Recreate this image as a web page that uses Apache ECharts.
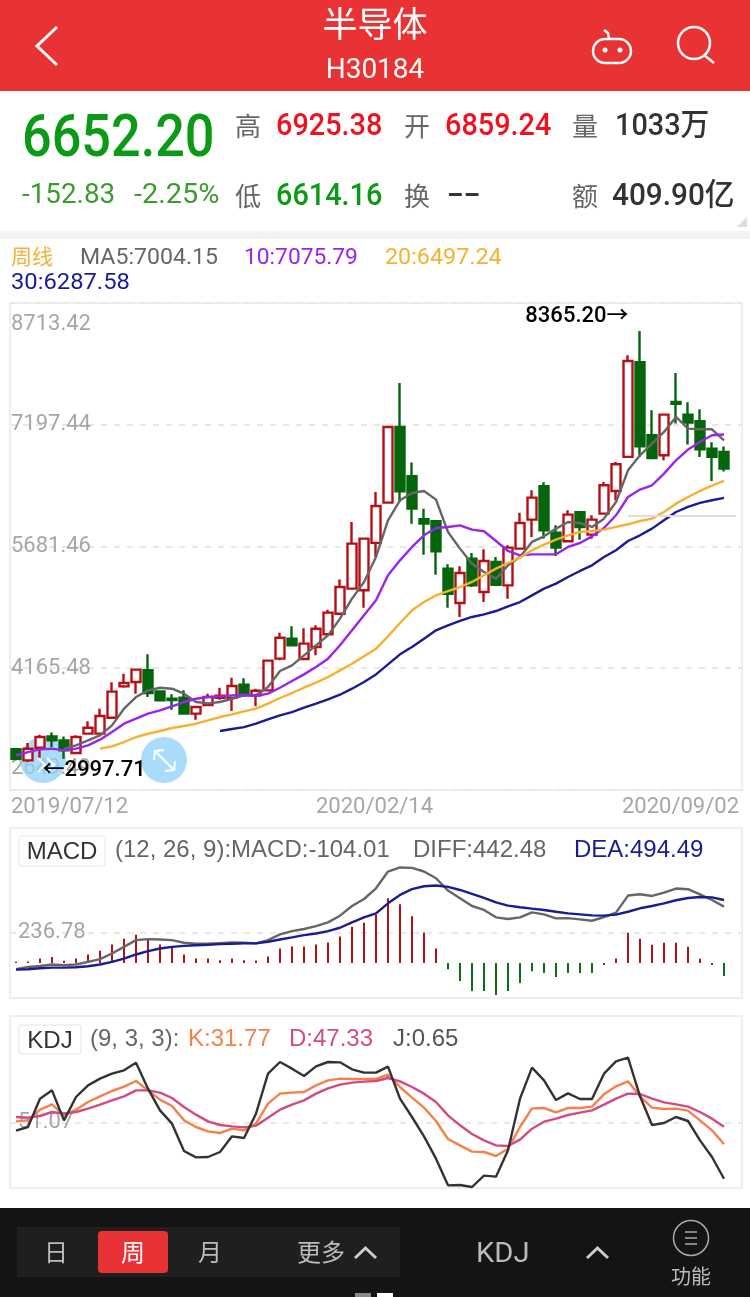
<!DOCTYPE html>
<html>
<head>
<meta charset="utf-8">
<title>半导体 H30184</title>
<style>
	html, body { margin: 0; padding: 0; background: #fff; }
	#main { width: 750px; height: 1297px; }
</style>
<script src="https://cdn.jsdelivr.net/npm/echarts@6/dist/echarts.min.js"></script>
</head>
<body>
<div id="main"></div>
<script>
// 周线日期（最后一根为当前周）
var categories = ['2019/07/12','2019/07/19','2019/07/26','2019/08/02','2019/08/09','2019/08/16','2019/08/23','2019/08/30','2019/09/06','2019/09/12','2019/09/20','2019/09/27','2019/09/30','2019/10/11','2019/10/18','2019/10/25','2019/11/01','2019/11/08','2019/11/15','2019/11/22','2019/11/29','2019/12/06','2019/12/13','2019/12/20','2019/12/27','2020/01/03','2020/01/10','2020/01/17','2020/01/23','2020/02/07','2020/02/14','2020/02/21','2020/02/28','2020/03/06','2020/03/13','2020/03/20','2020/03/27','2020/04/03','2020/04/10','2020/04/17','2020/04/24','2020/04/30','2020/05/08','2020/05/15','2020/05/22','2020/05/29','2020/06/05','2020/06/12','2020/06/19','2020/06/24','2020/07/03','2020/07/10','2020/07/17','2020/07/24','2020/07/31','2020/08/07','2020/08/14','2020/08/21','2020/08/28','2020/09/02'];
var openPrice = [3156,3018,3176,3317,3268,3110,3351,3351,3550,3940,3994,4140,3878,3787,3799,3600,3708,3799,3799,3961,3828,3890,4285,4534,4281,4430,4588,4845,5157,5136,5726,6228,7170,6556,6020,5995,5406,4978,5530,5115,5489,5198,5655,6016,6431,5854,5746,6107,5829,6091,6373,6797,7976,7066,6817,7482,7324,7241,6900,6859.24];
var closePrice = [3039,3164,3309,3268,3143,3309,3425,3571,3874,3982,4148,3857,3766,3770,3600,3683,3807,3824,3944,3828,3886,4260,4546,4451,4472,4658,4858,5177,5717,5779,6186,7170,6369,6153,5966,5622,5094,5352,5198,5501,5206,5667,5975,6290,5883,5667,6078,5925,6016,6444,6705,7992,6929,6784,7324,7457,7224,6892,6797,6652.20];
var lowPrice = [3018,2997.71,3052,3185,3039,3102,3342,3342,3537,3924,3849,3807,3755,3650,3587,3525,3699,3774,3633,3807,3691,3878,4264,4445,4272,4326,4575,4837,5150,4920,5551,6222,6236,5966,5580,5331,4920,4804,5177,4991,5190,5032,5650,5800,5779,5563,5741,5767,5779,6087,6257,6790,6797,6776,6755,7212,6950,6797,6498,6614.16];
var highPrice = [3156,3234,3338,3367,3317,3330,3504,3662,3990,4098,4160,4339,3890,3841,3890,3695,3849,3924,4048,4040,3911,4265,4609,4688,4663,4700,4895,5269,5987,5785,6361,7176,7718,6726,6153,6000,5460,5435,5601,5647,5551,5696,6103,6381,6481,5945,6132,6124,6070,6485,6734,8063,8365.20,7378,7330,7843,7478,7390,6979,6925.38];

var ma5 = [null,null,null,null,3164,3205,3267,3330,3454,3662,3807,3890,3923,3911,3849,3745,3728,3745,3786,3828,3828,3932,4131,4202,4326,4451,4575,4783,5032,5240,5551,6008,6257,6348,6373,6265,5862,5655,5468,5364,5281,5447,5551,5738,5808,5904,5987,5974,5925,6028,6236,6630,6817,6963,7108,7295,7149,7141,7141,7004.15];
var ma10 = [3081,3122,3155,3164,3143,3164,3205,3276,3371,3475,3537,3600,3641,3691,3745,3786,3807,3815,3828,3836,3820,3849,3923,4006,4089,4181,4285,4451,4638,4824,5011,5323,5509,5676,5821,5912,5925,5945,5891,5871,5750,5626,5572,5584,5584,5584,5676,5725,5808,5912,6070,6298,6390,6444,6589,6755,6888,6983,7066,7075.79];
var ma20 = [null,null,null,null,null,null,null,3164,3193,3247,3309,3350,3384,3421,3446,3475,3516,3558,3591,3629,3662,3724,3795,3857,3923,3986,4056,4139,4222,4314,4409,4563,4729,4887,4990,5073,5127,5177,5240,5323,5406,5476,5543,5634,5705,5767,5821,5862,5875,5891,5925,5958,5999,6028,6111,6215,6298,6373,6439,6497.24];
var ma30 = [null,null,null,null,null,null,null,null,null,null,null,null,null,null,null,null,null,3384,3409,3433,3475,3529,3579,3620,3674,3724,3778,3836,3911,3994,4089,4214,4339,4430,4534,4638,4700,4754,4804,4837,4878,4936,4990,5073,5157,5219,5302,5377,5447,5551,5634,5750,5821,5904,6008,6111,6174,6224,6257,6287.58];

var macdBar = [8,10,34,47,16,34,66,95,145,189,221,184,145,116,66,34,34,21,34,21,18,50,113,129,129,145,160,208,284,316,381,508,460,366,239,113,-50,-142,-221,-221,-252,-221,-158,-66,-79,-110,-79,-79,-79,-16,34,237,189,142,158,158,126,32,-16,-104.01];
var diffLine = [-50,-32,-24,-13,-18,-13,8,29,74,126,179,187,184,179,158,150,150,155,160,158,153,179,224,250,266,289,318,371,447,502,586,718,750,747,718,665,568,508,447,416,358,345,358,397,381,350,352,342,331,360,395,529,539,526,552,584,579,539,494,442.48];
var deaLine = [-53,-50,-42,-37,-37,-34,-26,-13,8,34,66,92,113,126,134,139,142,147,150,153,153,166,184,200,218,231,250,276,318,358,389,468,534,579,602,608,597,573,542,510,476,450,437,426,416,402,389,381,373,371,379,402,429,447,468,492,510,518,515,494.49];

var kLine = [52.3,53.2,62.8,67.6,57.7,62.8,69.7,74.8,79.6,83.5,88.6,80.2,71.8,66.1,53.2,47.2,43.3,41.8,45.7,44.2,50.2,68.2,77.2,78.1,78.7,84.7,89.2,90.7,90.4,90.4,90.4,94.3,83.2,73.6,64.6,52.6,36.4,30.7,25.0,24.7,21.1,27.7,47.2,64.0,64.3,60.4,64.3,64.3,65.5,76.6,83.8,88.3,74.8,64.6,63.4,63.7,61.9,53.2,44.2,31.77];
var dLine = [56.2,55.6,57.1,60.7,59.2,60.7,63.7,67.3,71.2,74.8,80.2,80.2,78.1,73.3,65.2,58.3,52.3,49.0,47.8,46.9,48.4,55.6,62.8,67.3,71.2,77.2,82.0,85.3,87.1,88.0,88.6,91.3,88.3,83.2,77.2,69.7,57.7,48.7,40.9,35.2,30.7,30.1,35.8,45.7,52.0,54.7,58.0,60.1,62.2,67.3,72.7,77.2,76.9,72.7,69.4,67.6,65.5,60.7,54.7,47.33];
var jLine = [43.9,47.2,72.7,80.2,53.2,74.2,84.7,90.7,95.2,98.2,105.1,81.7,62.2,50.2,25.6,19.9,20.2,24.7,38.8,37.3,59.2,95.2,105.7,99.7,93.1,101.8,105.7,105.4,99.1,96.1,96.1,101.5,72.7,56.2,38.8,18.7,-5.3,-5.0,-6.8,3.4,2.5,26.2,72.7,100.6,89.2,71.5,77.5,72.4,72.4,95.2,106.3,109.6,74.8,49.0,50.8,56.2,52.6,35.2,20.2,0.65];

var priceTicks = [2649.49, 4165.48, 5681.46, 7197.44, 8713.42];
var macdTicks = [236.78];
var kdjTicks = [51.07];
var dateLabels = ['2019/07/12', '2020/02/14', '2020/09/02'];
var highLabel = 8365.20;
var lowLabel = 2997.71;
var priceRefLine = 6070;

var RED = '#b80f14', GREEN = '#05650d', GRAY = '#a6a6a6';
var FONT = 'Roboto, "Noto Sans CJK SC", sans-serif';
var CJK = '"Noto Sans CJK SC", sans-serif';

var candleData = openPrice.map(function (o, i) {
	return [o, closePrice[i], lowPrice[i], highPrice[i]];
});
// 末尾留一格空白，和边框对齐
var axisCats = categories.concat(['']);

function lineSeries(name, data, color, xi, yi) {
	return {
		name: name, type: 'line', data: data,
		xAxisIndex: xi, yAxisIndex: yi,
		showSymbol: false, symbol: 'none', connectNulls: false,
		lineStyle: {color: color, width: 2.4},
		silent: true
	};
}
function catAxis(idx) {
	return {
		type: 'category', gridIndex: idx, data: axisCats,
		axisLine: {show: false}, axisTick: {show: false},
		axisLabel: {show: false}, splitLine: {show: false}
	};
}
function valAxis(idx, min, max, ticks, margin) {
	return {
		type: 'value', gridIndex: idx, min: min, max: max, scale: true,
		axisLine: {show: false},
		axisTick: {show: false, customValues: ticks},
		axisLabel: {
			inside: true, margin: margin, customValues: ticks, padding: [4, 0, 0, 0],
			color: GRAY, fontSize: 22, fontFamily: FONT,
			formatter: function (v) { return v.toFixed(2); }
		},
		splitLine: {show: true, lineStyle: {color: '#e8e8e8', width: 2, type: [6, 7]}}
	};
}
function txt(text, x, y, size, color, extra) {
	var e = extra || {};
	return {
		type: 'text', x: x, y: y, scaleX: e.sx || 1, z: e.z || 100,
		style: {
			text: text, fill: color, textAlign: e.align || 'left', textVerticalAlign: 'middle',
			font: (e.weight || 'normal') + ' ' + size + 'px ' + (e.font || FONT)
		}
	};
}
function chevron(x1, x2, x3, y1, y2, color, w) {
	return {
		type: 'polyline', z: 100,
		shape: {points: [[x1, y1], [x2, y2], [x3, y1]]},
		style: {stroke: color, lineWidth: w, fill: null}
	};
}

var priceAxis = valAxis(0, priceTicks[0], priceTicks[4], priceTicks, 1);
// 上下两个刻度文字往框内收一点
priceAxis.axisLabel.padding = 0;
priceAxis.axisLabel.verticalAlignMaxLabel = 'top';
priceAxis.axisLabel.verticalAlignMinLabel = 'bottom';
priceAxis.axisLabel.formatter = function (v) {
	var s = v.toFixed(2);
	if (v === priceTicks[4]) return '{t|' + s + '}';
	if (v === priceTicks[0]) return '{b|' + s + '}';
	return '{m|' + s + '}';
};
priceAxis.axisLabel.rich = {
	t: {padding: [10, 0, 0, 0], color: GRAY, fontSize: 22, fontFamily: FONT},
	b: {padding: [0, 0, 10, 0], color: GRAY, fontSize: 22, fontFamily: FONT},
	m: {padding: [0, 0, 0, 0], color: GRAY, fontSize: 22, fontFamily: FONT}
};

var chrome = [
	// 顶栏
	{type: 'rect', z: 50, shape: {x: 0, y: 0, width: 750, height: 91}, style: {fill: '#e83234'}},
	txt('半导体', 375, 24, 35, '#fff', {align: 'center', font: CJK}),
	txt('H30184', 375, 71, 28, '#fff', {align: 'center'}),
	{type: 'polyline', z: 100, shape: {points: [[57, 27], [37, 46], [57, 65]]}, style: {stroke: '#fff', lineWidth: 3, fill: null}},
	{type: 'rect', z: 100, shape: {x: 593, y: 39, width: 38, height: 24, r: 12}, style: {stroke: '#fff', lineWidth: 2.5, fill: null}},
	{type: 'polyline', z: 100, shape: {points: [[604, 30], [608, 33], [609, 39]]}, style: {stroke: '#fff', lineWidth: 2.5, fill: null}},
	{type: 'circle', z: 100, shape: {cx: 605, cy: 50, r: 2.5}, style: {fill: '#fff'}},
	{type: 'circle', z: 100, shape: {cx: 620, cy: 50, r: 2.5}, style: {fill: '#fff'}},
	{type: 'circle', z: 100, shape: {cx: 694, cy: 43, r: 16}, style: {stroke: '#fff', lineWidth: 2.5, fill: null}},
	{type: 'line', z: 100, shape: {x1: 704, y1: 55, x2: 714, y2: 63}, style: {stroke: '#fff', lineWidth: 2.5}},

	// 行情信息
	txt('6652.20', 22, 141, 60, '#0a9a16', {sx: 0.87, weight: 500}),
	txt('-152.83', 22, 196, 27, '#3a9c2c', {sx: 1.03}),
	txt('-2.25%', 134, 196, 27, '#3a9c2c', {sx: 1.07}),
	txt('高', 235, 126, 26, '#666', {font: CJK}),
	txt('6925.38', 276, 127, 31, '#f0101e', {sx: 0.93, weight: 500}),
	txt('开', 404, 126, 26, '#666', {font: CJK}),
	txt('6859.24', 445, 127, 31, '#f0101e', {sx: 0.93, weight: 500}),
	txt('量', 572, 126, 26, '#666', {font: CJK}),
	txt('1033万', 615, 127, 31, '#333', {sx: 0.93, weight: 500}),
	txt('低', 235, 196, 26, '#666', {font: CJK}),
	txt('6614.16', 276, 197, 31, '#0a9a16', {sx: 0.93, weight: 500}),
	txt('换', 404, 196, 26, '#666', {font: CJK}),
	txt('--', 447, 196, 31, '#333', {sx: 1.6, weight: 500}),
	txt('额', 572, 196, 26, '#666', {font: CJK}),
	txt('409.90亿', 612, 197, 31, '#333', {sx: 0.96, weight: 500}),
	{type: 'polygon', z: 100, shape: {points: [[747, 217], [747, 227], [737, 227]]}, style: {fill: '#ddd'}},
	{type: 'rect', z: 50, shape: {x: 0, y: 231, width: 750, height: 8}, style: {fill: '#f3f3f3'}},

	// MA 图例
	txt('周线', 11, 256, 21, '#f5b03a', {font: CJK}),
	txt('MA5:7004.15', 80, 258, 22, '#666', {sx: 1.05}),
	txt('10:7075.79', 244, 258, 22, '#9a24ee', {sx: 1.035}),
	txt('20:6497.24', 385, 258, 22, '#f5b22e', {sx: 1.06}),
	txt('30:6287.58', 11, 283, 22, '#1b1b96', {sx: 1.08}),

	// 日期
	txt(dateLabels[0], 11, 807, 22, GRAY),
	txt(dateLabels[1], 316, 807, 22, GRAY),
	txt(dateLabels[2], 739, 807, 22, GRAY, {align: 'right'}),

	// 浮动按钮
	{type: 'circle', z: 1, shape: {cx: 43, cy: 760, r: 23}, style: {fill: '#8fd2fa', opacity: 0.75}},
	{type: 'polyline', z: 1, shape: {points: [[38, 758], [45, 765], [38, 772]]}, style: {stroke: '#fff', lineWidth: 2, fill: null}},
	{type: 'polyline', z: 1, shape: {points: [[47, 758], [54, 765], [47, 772]]}, style: {stroke: '#fff', lineWidth: 2, fill: null}},
	{type: 'circle', z: 1, shape: {cx: 164, cy: 760, r: 23}, style: {fill: '#a9dcfb'}},
	{type: 'line', z: 2, shape: {x1: 155, y1: 751, x2: 174, y2: 770}, style: {stroke: '#fff', lineWidth: 2}},
	{type: 'polyline', z: 2, shape: {points: [[154, 760], [155, 751], [164, 750]]}, style: {stroke: '#fff', lineWidth: 2, fill: null}},
	{type: 'polyline', z: 2, shape: {points: [[165, 771], [174, 770], [175, 761]]}, style: {stroke: '#fff', lineWidth: 2, fill: null}},

	// MACD 标题
	{type: 'rect', z: 100, shape: {x: 19, y: 836, width: 86, height: 30, r: 3}, style: {stroke: '#eee', lineWidth: 1.5, fill: '#fff'}},
	txt('MACD', 62, 852, 24, '#333', {align: 'center', font: 'Liberation Sans'}),
	txt('(12, 26, 9):MACD:-104.01', 115, 850, 24, '#666', {font: 'Liberation Sans'}),
	txt('DIFF:442.48', 413, 850, 24, '#666', {font: 'Liberation Sans'}),
	txt('DEA:494.49', 574, 850, 24, '#1b1b96', {font: 'Liberation Sans'}),

	// KDJ 标题
	{type: 'rect', z: 100, shape: {x: 19, y: 1025, width: 62, height: 29, r: 3}, style: {stroke: '#eee', lineWidth: 1.5, fill: '#fff'}},
	txt('KDJ', 50, 1041, 24, '#333', {align: 'center', font: 'Liberation Sans'}),
	txt('(9, 3, 3):', 90, 1039, 24, '#666', {font: 'Liberation Sans'}),
	txt('K:31.77', 188, 1039, 24, '#f4814a', {font: 'Liberation Sans'}),
	txt('D:47.33', 289, 1039, 24, '#d24b85', {font: 'Liberation Sans'}),
	txt('J:0.65', 393, 1039, 24, '#555', {font: 'Liberation Sans'}),

	// 底部工具栏
	{type: 'rect', z: 50, shape: {x: 0, y: 1208, width: 750, height: 89}, style: {fill: '#141414'}},
	{type: 'rect', z: 60, shape: {x: 17, y: 1227, width: 383, height: 50}, style: {fill: '#1f1f1f'}},
	{type: 'rect', z: 70, shape: {x: 98, y: 1231, width: 70, height: 42, r: 4}, style: {fill: '#e83234'}},
	txt('日', 56, 1252, 24, '#bbb', {align: 'center', font: CJK}),
	txt('周', 133, 1252, 24, '#fff', {align: 'center', font: CJK}),
	txt('月', 210, 1252, 24, '#bbb', {align: 'center', font: CJK}),
	txt('更多', 321, 1252, 24, '#bbb', {align: 'center', font: CJK}),
	chevron(355, 365.5, 376, 1258, 1248, '#ccc', 3),
	txt('KDJ', 476, 1255, 27, '#bbb', {sx: 1.08}),
	chevron(587, 597.5, 608, 1258, 1248, '#ccc', 3),
	{type: 'circle', z: 100, shape: {cx: 691, cy: 1238, r: 17.5}, style: {stroke: '#aaa', lineWidth: 1.5, fill: null}},
	{type: 'line', z: 100, shape: {x1: 685, y1: 1232, x2: 697, y2: 1232}, style: {stroke: '#aaa', lineWidth: 1.5}},
	{type: 'line', z: 100, shape: {x1: 685, y1: 1238, x2: 697, y2: 1238}, style: {stroke: '#aaa', lineWidth: 1.5}},
	{type: 'line', z: 100, shape: {x1: 685, y1: 1244, x2: 697, y2: 1244}, style: {stroke: '#aaa', lineWidth: 1.5}},
	txt('功能', 691, 1276, 20, '#bbb', {align: 'center', font: CJK}),
	{type: 'rect', z: 100, shape: {x: 355, y: 1293, width: 16, height: 4}, style: {fill: '#888'}},
	{type: 'rect', z: 100, shape: {x: 377, y: 1293, width: 16, height: 4}, style: {fill: '#fff'}}
];

var option = {
	animation: false,
	backgroundColor: '#fff',
	graphic: {elements: chrome},
	grid: [
		{left: 10, width: 732, top: 303, height: 487, show: true, borderColor: '#eee', borderWidth: 2},
		{left: 10, width: 732, top: 828, height: 170, show: true, borderColor: '#eee', borderWidth: 2},
		{left: 10, width: 732, top: 1016, height: 172, show: true, borderColor: '#eee', borderWidth: 2}
	],
	xAxis: [catAxis(0), catAxis(1), catAxis(2)],
	yAxis: [
		priceAxis,
		valAxis(1, -276, 1060, macdTicks, 8),
		valAxis(2, -7.7, 147.1, kdjTicks, 8)
	],
	series: [{
		name: '周线',
		type: 'candlestick',
		xAxisIndex: 0, yAxisIndex: 0,
		data: candleData,
		barWidth: 9,
		itemStyle: {color: '#fff', color0: GREEN, borderColor: RED, borderColor0: GREEN, borderWidth: 2.4},
		markPoint: {
			symbol: 'circle', symbolSize: 1,
			itemStyle: {color: 'transparent'},
			z: 6,
			data: [{
				coord: [categories[52], highLabel],
				label: {show: true, position: 'left', offset: [-6, -14], formatter: highLabel.toFixed(2) + '→', color: '#000', fontSize: 22, fontWeight: 500, fontFamily: FONT}
			}, {
				coord: [categories[1], lowLabel],
				label: {show: true, position: 'right', offset: [9, 8], formatter: '←' + lowLabel.toFixed(2), color: '#000', fontSize: 22, fontWeight: 500, fontFamily: FONT}
			}]
		},
		markLine: {
			silent: true, symbol: 'none', animation: false,
			label: {show: false},
			lineStyle: {color: '#ddd', width: 2, type: 'solid'},
			data: [[{coord: [categories[51], priceRefLine]}, {coord: [axisCats.length - 1, priceRefLine]}]]
		}
	},
	lineSeries('MA5', ma5, '#666666', 0, 0),
	lineSeries('MA10', ma10, '#9a24ee', 0, 0),
	lineSeries('MA20', ma20, '#f7b02f', 0, 0),
	lineSeries('MA30', ma30, '#1b1b96', 0, 0),
	{
		name: 'MACD',
		type: 'bar',
		xAxisIndex: 1, yAxisIndex: 1,
		data: macdBar,
		barWidth: 2,
		itemStyle: {
			color: function (p) { return p.value >= 0 ? '#b80f14' : '#0a6e12'; }
		}
	},
	lineSeries('DIFF', diffLine, '#666666', 1, 1),
	lineSeries('DEA', deaLine, '#1b1b96', 1, 1),
	lineSeries('K', kLine, '#f4814a', 2, 2),
	lineSeries('D', dLine, '#d24b85', 2, 2),
	lineSeries('J', jLine, '#333333', 2, 2)
	]
};

var myChart = echarts.init(document.getElementById('main'));
myChart.setOption(option);
</script>
</body>
</html>
